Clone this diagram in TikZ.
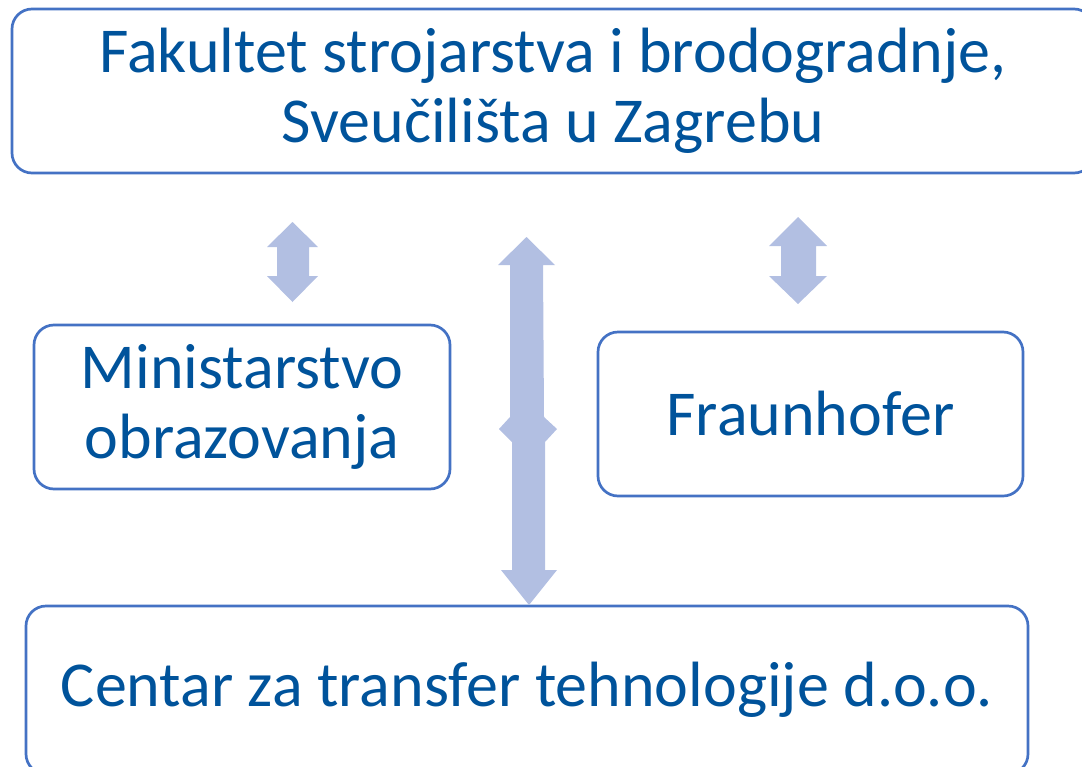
\documentclass[tikz,border=0pt]{standalone}
\usepackage{fontspec}
\setmainfont{Carlito}
\usepackage{xcolor}
\usetikzlibrary{positioning}

\definecolor{boxline}{RGB}{68,114,196}
\definecolor{boxtext}{RGB}{0,83,155}
\definecolor{arrowfill}{RGB}{178,191,226}

\tikzset{
  box/.style={draw=boxline, line width=2.7pt, rounded corners=20pt,
    text=boxtext, align=center, font=\fontsize{64}{70}\selectfont},
  blockarrow/.style={fill=arrowfill, draw=none}
}

\begin{document}
\begin{tikzpicture}[x=1pt,y=-1pt]
\useasboundingbox (0,0) rectangle (1082,766);
\clip (0,0) rectangle (1082,766);

% Boxes
\node[box, minimum width=1082pt, minimum height=164pt] (fsb) at (553,91)
  {Fakultet strojarstva i brodogradnje,\\Sveučilišta u Zagrebu};
\node[box, minimum width=416pt, minimum height=164pt] (mzo) at (242,407)
  {Ministarstvo\\obrazovanja};
\node[box, minimum width=425pt, minimum height=164pt] (fhg) at (810.5,414)
  {Fraunhofer};
\node[box, minimum width=1002pt, minimum height=168pt] (ctt) at (527,690)
  {Centar za transfer tehnologije d.o.o.};

% Left double arrow (fsb <-> mzo)
\fill[blockarrow] (292.5,222) -- (318,247) -- (309,247) -- (309,276) -- (318,276)
  -- (292.5,302) -- (267,276) -- (277,276) -- (277,247) -- (267,247) -- cycle;

% Right double arrow (fsb <-> fhg)
\fill[blockarrow] (798,217) -- (827,246) -- (816,246) -- (816,276) -- (827,276)
  -- (798,304) -- (769,276) -- (781,276) -- (781,246) -- (769,246) -- cycle;

% Long arrow in the middle (fsb <-> ctt)
\fill[blockarrow] (526.5,237) -- (555,265) -- (543,265) -- (544,417) -- (557,429)
  -- (545,442) -- (545,570) -- (557,570) -- (529,605) -- (501,570) -- (512,570)
  -- (512,442) -- (499,429) -- (510,417) -- (510,265) -- (498,265) -- cycle;
\end{tikzpicture}
\end{document}
